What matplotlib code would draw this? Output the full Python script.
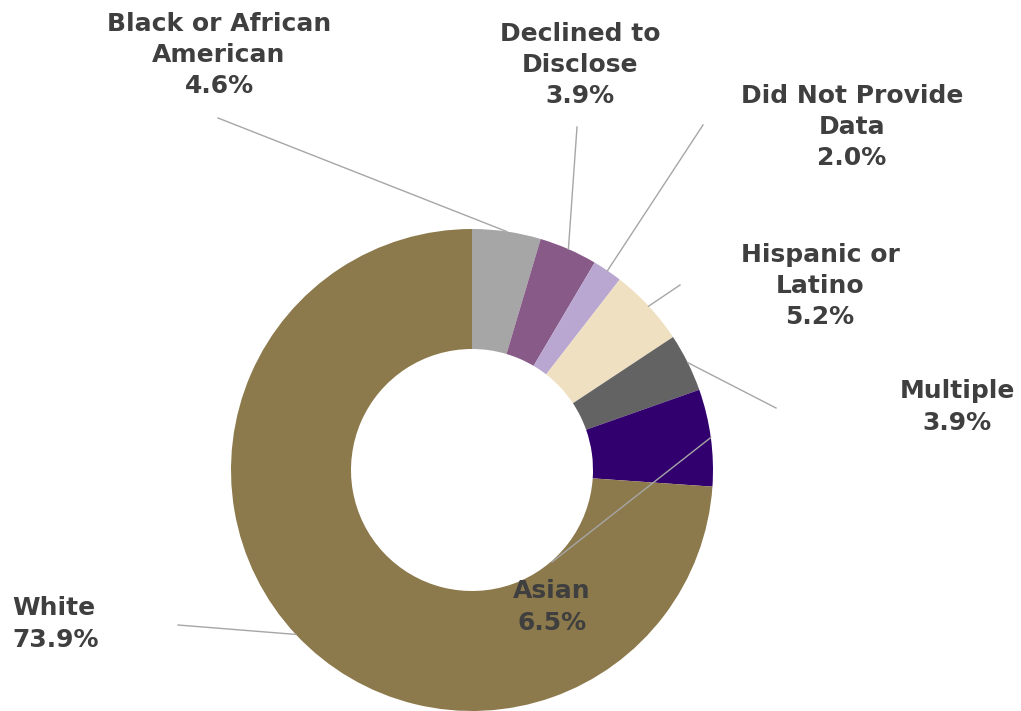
import numpy as np
import matplotlib.pyplot as plt

# race / ethnicity breakdown, percent
labels = ['Black or African\nAmerican', 'Declined to\nDisclose', 'Did Not Provide\nData',
          'Hispanic or\nLatino', 'Multiple', 'Asian', 'White']
values = [4.6, 3.9, 2.0, 5.2, 3.9, 6.5, 73.9]
colors = ['#a6a6a6', '#875a87', '#b9a7d1', '#efe0c1', '#636363', '#32006e', '#8c7a4c']

# label text anchors and leader-line ends, in pixel coords (y down)
text_pos = [(219, 55), (580, 65), (852, 127), (820, 286), (957, 407), (552, 607), (12, 624)]
text_ha = ['center'] * 6 + ['left']
line_end = [(218, 118), (577, 127), (703, 125), (680, 285), (776, 408), (552, 562), (178, 625)]

W, H = 1021, 711
cx, cy, R, r = 472, 470, 241, 121

fig = plt.figure(figsize=(W / 100, H / 100), dpi=100)
ax = fig.add_axes([0, 0, 1, 1])

wedges, _ = ax.pie(values, colors=colors, startangle=90, counterclock=False,
                   center=(cx, H - cy), radius=R, frame=True,
                   wedgeprops=dict(width=R - r, linewidth=0))
ax.set_xlim(0, W)
ax.set_ylim(0, H)
ax.set_aspect('equal')
ax.axis('off')

for w, lab, v, (tx, ty), ha, (ex, ey) in zip(wedges, labels, values, text_pos, text_ha, line_end):
    mid = np.deg2rad((w.theta1 + w.theta2) / 2)
    sx = cx + R * np.cos(mid)
    sy = (H - cy) + R * np.sin(mid)
    ax.plot([sx, ex], [sy, H - ey], color='#a6a6a6', lw=1, zorder=3)
    ax.text(tx, H - ty, f'{lab}\n{v:.1f}%', ha=ha, va='center', multialignment=ha,
            fontsize=18, fontweight='bold', color='#3f3f3f',
            linespacing=1.38, family='DejaVu Sans', zorder=4)

fig.savefig('out.png', dpi=100, facecolor='white')
